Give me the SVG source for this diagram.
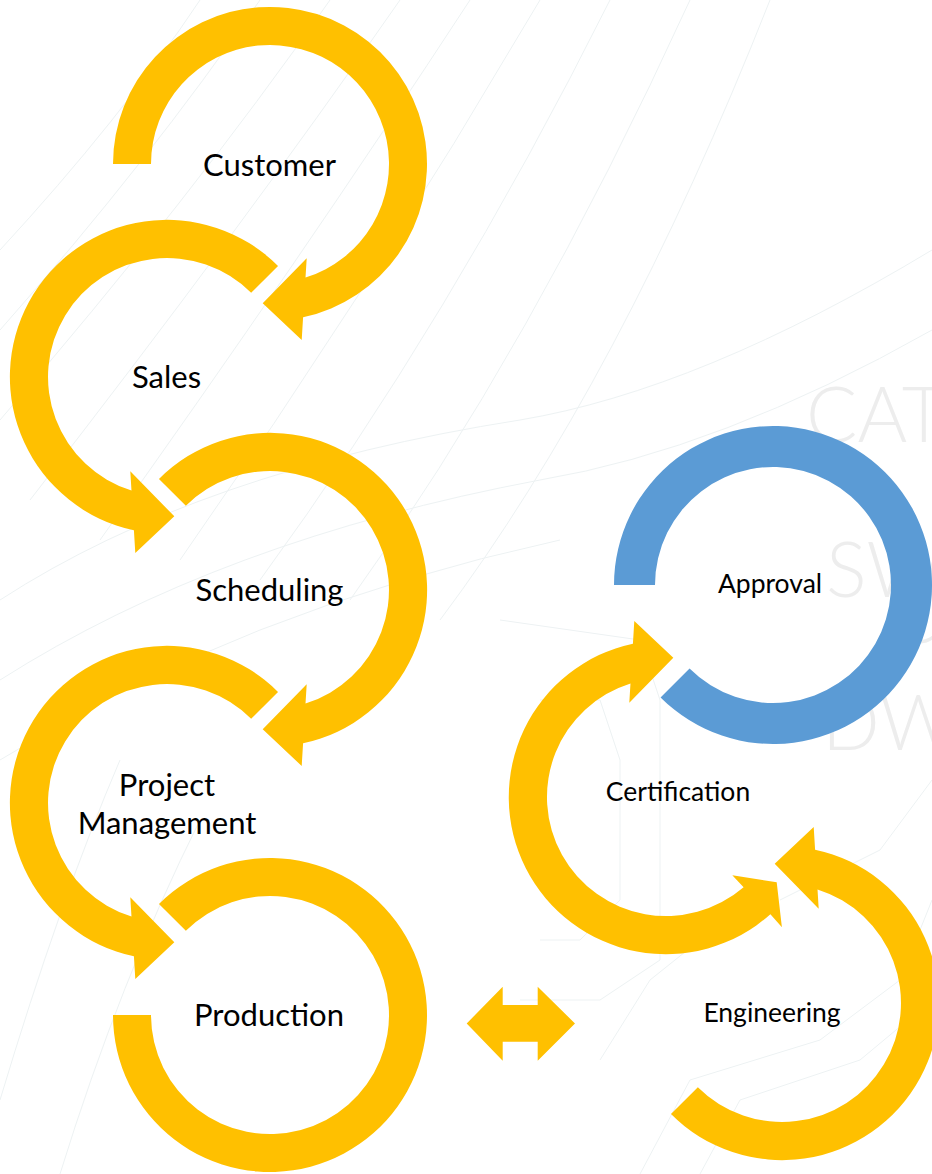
<svg xmlns="http://www.w3.org/2000/svg" width="932" height="1174" viewBox="0 0 932 1174">
<defs>
<style>
.y{fill:#FFC000}
.b{fill:#5B9BD5}
.lbl{font-family:Lato,"Liberation Sans",sans-serif;fill:#000000;text-anchor:middle}
.big{font-size:31px}
.sm{font-size:26.5px}
.wm{font-family:Lato,"Open Sans",sans-serif;font-weight:300;font-size:76px;fill:#EDEDED}
.bg{fill:none;stroke:#EDF2F3;stroke-width:1}
</style>
</defs>
<rect width="932" height="1174" fill="#FFFFFF"/>
<g id="background">
<path class="bg" d="M0,250 Q120,120 200,0"/>
<path class="bg" d="M0,330 Q150,160 260,0"/>
<path class="bg" d="M0,420 Q190,200 330,0"/>
<path class="bg" d="M30,500 Q240,230 400,0"/>
<path class="bg" d="M100,540 Q300,260 470,0"/>
<path class="bg" d="M180,560 Q370,290 540,0"/>
<path class="bg" d="M260,580 Q450,320 610,0"/>
<path class="bg" d="M350,600 Q530,350 690,0"/>
<path class="bg" d="M440,620 Q620,380 770,0"/>
<path class="bg" d="M0,600 Q200,470 520,420 Q700,390 932,250"/>
<path class="bg" d="M0,680 Q220,540 540,480 Q720,450 932,330"/>
<path class="bg" d="M0,760 Q240,610 560,540"/>
<path class="bg" d="M0,1100 Q60,900 120,760"/>
<path class="bg" d="M60,1174 Q120,980 200,820"/>
<path class="bg" d="M500,620 L640,640 L660,700 L660,960 L600,1000 L520,1000"/>
<path class="bg" d="M540,700 L600,700 L620,760 L620,900 L580,940 L540,940"/>
<path class="bg" d="M700,1174 L740,1100 L860,1060 L932,1000"/>
<path class="bg" d="M640,1174 L690,1080 L820,1040 L900,980 L932,900"/>
<path class="bg" d="M780,900 L880,850 L932,780"/>
<path class="bg" d="M600,1060 L650,980 L700,940"/>
<text class="wm" x="806" y="442">CAT</text>
<text class="wm" x="826" y="597">SW</text>
<text class="wm" x="888" y="643">C</text>
<text class="wm" x="822" y="750">DW</text>
</g>
<g id="connectors">
<polygon class="y" points="466.7,1023.5 502.7,986.7 502.7,1005 537.7,1005 537.7,986.7 575,1023.5 537.7,1060.7 537.7,1041.7 502.7,1041.7 502.7,1060.7"/>
</g>
<g id="customer">
<path class="y" d="M113,164 A157,157 0 1 1 303.09,317.37 L301.7,340 L262.7,303.3 L306.7,258.3 L305.52,277.58 A119,119 0 1 0 151,164 Z"/>
<text class="lbl big" x="269.5" y="176">Customer</text>
</g>
<g id="sales">
<path class="y" d="M278.02,265.98 A157,157 0 1 0 133.91,530.37 L135.3,553 L174.3,516.3 L130.3,471.3 L131.48,490.58 A119,119 0 1 1 251.15,292.85 Z"/>
<text class="lbl big" x="166.5" y="388">Sales</text>
</g>
<g id="scheduling">
<path class="y" d="M158.98,478.98 A157,157 0 1 1 303.09,743.37 L301.7,766 L262.7,729.3 L306.7,684.3 L305.52,703.58 A119,119 0 1 0 185.85,505.85 Z"/>
<text class="lbl big" x="269.5" y="601">Scheduling</text>
</g>
<g id="project-management">
<path class="y" d="M278.02,691.98 A157,157 0 1 0 133.91,956.37 L135.3,979 L174.3,942.3 L130.3,897.3 L131.48,916.58 A119,119 0 1 1 251.15,718.85 Z"/>
<text class="lbl big" x="167" y="796">Project</text>
<text class="lbl big" x="167" y="834">Management</text>
</g>
<g id="production">
<path class="y" d="M158.98,903.98 A157,157 0 1 1 113,1015 L151,1015 A119,119 0 1 0 185.85,930.85 Z"/>
<text class="lbl big" x="269" y="1026">Production</text>
</g>
<g id="approval">
<path class="b" d="M614,585 A159,159 0 1 1 660.57,697.43 L689.56,668.44 A118,118 0 1 0 655,585 Z"/>
<text class="lbl sm" x="770" y="593">Approval</text>
</g>
<g id="certification">
<path class="y" d="M632.91,643.63 L634.3,621 L673.3,657.7 L629.3,702.7 L630.48,683.42 A119,119 0 1 0 743.6,887.2 L732.3,875.3 L776.7,882.2 L781.9,927.3 L770.4,914.2 A157,157 0 1 1 632.91,643.63 Z"/>
<text class="lbl sm" x="678" y="801">Certification</text>
</g>
<g id="engineering">
<path class="y" d="M670.98,1114.02 A157,157 0 1 0 815.09,849.63 L813.7,827 L774.7,863.7 L818.7,908.7 L817.52,889.42 A119,119 0 1 1 697.85,1087.15 Z"/>
<text class="lbl sm" x="772" y="1022">Engineering</text>
</g>
</svg>
